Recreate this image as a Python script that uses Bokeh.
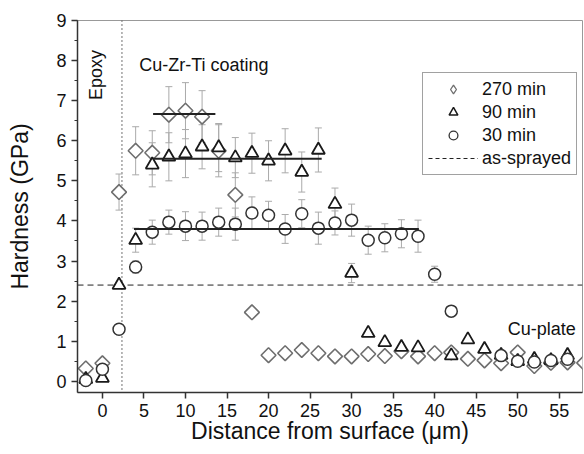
import math
from bokeh.plotting import figure
from bokeh.models import (Range1d, SingleIntervalTicker, Span, Label, Legend, LegendItem,
                          Whisker, TeeHead, ColumnDataSource)
from bokeh.embed import file_html
from bokeh.resources import INLINE

FONT = "Liberation Sans"

# ---------------- data ----------------
# 270 min (diamonds)
x_270 = [-2, 0, 2, 4, 6, 8, 10, 12, 14, 16, 18, 20, 22, 24, 26, 28, 30, 32, 34, 36,
         38, 40, 42, 44, 46, 48, 50, 52, 54, 56, 58]
h_270 = [0.32, 0.45, 4.72, 5.75, 5.70, 6.65, 6.75, 6.60, 5.75, 4.65, 1.72, 0.65, 0.70,
         0.78, 0.70, 0.62, 0.62, 0.68, 0.63, 0.75, 0.62, 0.70, 0.72, 0.56, 0.52, 0.45,
         0.72, 0.38, 0.46, 0.47, 0.46]
e_270 = [0.0, 0.0, 0.45, 0.6, 0.55, 0.7, 0.7, 0.65, 0.65, 0.55, 0.0, 0.0, 0.0,
         0.0, 0.0, 0.0, 0.0, 0.0, 0.0, 0.0, 0.0, 0.0, 0.0, 0.0, 0.0, 0.0,
         0.0, 0.0, 0.0, 0.0, 0.0]

# 90 min (triangles)
x_90 = [-2, 0, 2, 4, 6, 8, 10, 12, 14, 16, 18, 20, 22, 24, 26, 28, 30, 32, 34, 36,
        38, 42, 44, 46, 48, 50, 52, 54, 56]
h_90 = [0.05, 0.08, 2.40, 3.52, 5.40, 5.60, 5.68, 5.85, 5.83, 5.58, 5.69, 5.50, 5.75,
        5.22, 5.77, 4.42, 2.70, 1.20, 0.97, 0.85, 0.84, 0.64, 1.04, 0.80, 0.65, 0.50,
        0.55, 0.52, 0.65]
e_90 = [0.0, 0.0, 0.0, 0.3, 0.55, 0.6, 0.6, 0.55, 0.6, 0.5, 0.5, 0.5, 0.55,
        0.5, 0.55, 0.4, 0.24, 0.0, 0.0, 0.0, 0.0, 0.0, 0.0, 0.0, 0.0, 0.0,
        0.0, 0.0, 0.0]

# 30 min (circles)
x_30 = [-2, 0, 2, 4, 6, 8, 10, 12, 14, 16, 18, 20, 22, 24, 26, 28, 30, 32, 34, 36,
        38, 40, 42, 48, 50, 52, 54, 56]
h_30 = [0.02, 0.30, 1.30, 2.85, 3.72, 3.97, 3.87, 3.87, 3.97, 3.92, 4.20, 4.14, 3.80,
        4.18, 3.82, 3.95, 4.02, 3.52, 3.58, 3.68, 3.62, 2.67, 1.75, 0.64, 0.50, 0.48,
        0.52, 0.55]
e_30 = [0.0, 0.0, 0.0, 0.15, 0.3, 0.3, 0.36, 0.35, 0.35, 0.4, 0.4, 0.35, 0.36,
        0.35, 0.4, 0.3, 0.4, 0.35, 0.35, 0.35, 0.4, 0.2, 0.0, 0.0, 0.0, 0.0,
        0.0, 0.0]

# mean-value lines in the coating: start, end, level
fit_x0 = [6.1, 6.1, 3.8]
fit_x1 = [13.6, 26.4, 38.1]
fit_y = [6.67, 5.55, 3.80]

as_sprayed = 2.4          # GPa
epoxy_interface = 2.35    # um

x_min, x_max = -3.0, 57.8
y_min, y_max = -0.28, 9.0
x_ticks_interval = 5
y_ticks_interval = 1

# ---------------- figure ----------------
p = figure(width=584, height=454, x_range=Range1d(x_min, x_max), y_range=Range1d(y_min, y_max),
           output_backend="svg", toolbar_location=None,
           min_border_left=77, min_border_right=2, min_border_top=20, min_border_bottom=62)
p.xgrid.visible = False
p.ygrid.visible = False
p.outline_line_color = "#999999"
p.outline_line_width = 1
p.background_fill_color = "white"
p.border_fill_color = "white"

for ax in (p.xaxis[0], p.yaxis[0]):
    ax.axis_line_color = "#333333"
    ax.axis_line_width = 1.5
    ax.major_tick_line_color = "#333333"
    ax.major_tick_line_width = 1.5
    ax.minor_tick_line_color = "#333333"
    ax.major_tick_in = 0
    ax.major_tick_out = 6
    ax.minor_tick_in = 0
    ax.major_label_text_font = FONT
    ax.major_label_text_font_size = "18px"
    ax.major_label_text_color = "#111111"
    ax.major_label_standoff = 5
    ax.axis_label_text_font = FONT
    ax.axis_label_text_font_size = "23px"
    ax.axis_label_text_font_style = "normal"
    ax.axis_label_text_color = "#111111"

p.xaxis.ticker = SingleIntervalTicker(interval=x_ticks_interval, num_minor_ticks=0)
p.xaxis.minor_tick_out = 0
p.xaxis.major_label_standoff = 5
p.xaxis.axis_label = "Distance from surface (\u03bcm)"
p.xaxis.axis_label_standoff = -2

p.yaxis.ticker = SingleIntervalTicker(interval=y_ticks_interval, num_minor_ticks=2)
p.yaxis.minor_tick_out = 3
p.yaxis.axis_label = "Hardness (GPa)"
p.yaxis.axis_label_standoff = 20

# epoxy / coating interface
p.add_layout(Span(location=epoxy_interface, dimension="height", line_dash="1 3",
                  line_color="#444444", line_width=1.5, level="underlay"))

# as-sprayed hardness level
r_as = p.line(x=[x_min, x_max], y=[as_sprayed, as_sprayed], line_dash="6 4",
              line_color="#222222", line_width=1, level="underlay")

# error bars
def add_bars(xs, hs, es):
    bx = [x for x, e in zip(xs, es) if e > 0]
    up = [h + e for h, e in zip(hs, es) if e > 0]
    lo = [h - e for h, e in zip(hs, es) if e > 0]
    src = ColumnDataSource(dict(base=bx, upper=up, lower=lo))
    w = Whisker(base="base", upper="upper", lower="lower", source=src, dimension="height",
                line_color="#aaaaaa", line_width=1, level="underlay",
                upper_head=TeeHead(size=7, line_color="#aaaaaa", line_width=1),
                lower_head=TeeHead(size=7, line_color="#aaaaaa", line_width=1))
    p.add_layout(w)

add_bars(x_270, h_270, e_270)
add_bars(x_90, h_90, e_90)
add_bars(x_30, h_30, e_30)

r270 = p.scatter(x_270, h_270, marker="square", angle=math.pi / 4, size=10.5,
                 fill_color="white", line_color="#6e6e6e", line_width=1.6)
r90 = p.scatter(x_90, h_90, marker="triangle", size=13,
                fill_color="white", line_color="#1a1a1a", line_width=1.8)
r30 = p.scatter(x_30, h_30, marker="circle", size=12,
                fill_color="white", line_color="#333333", line_width=1.5)

p.segment(x0=fit_x0, x1=fit_x1, y0=fit_y, y1=fit_y, line_color="#222222", line_width=2)

# legend-only keys (legend markers are drawn unrotated)
r270_key = p.scatter(x=[float("nan")], y=[float("nan")], marker="diamond", size=10,
                     fill_color="white", line_color="#6e6e6e", line_width=1.3)
r90_key = p.scatter(x=[float("nan")], y=[float("nan")], marker="triangle", size=10,
                    fill_color="white", line_color="#1a1a1a", line_width=1.5)
r30_key = p.scatter(x=[float("nan")], y=[float("nan")], marker="circle", size=10,
                    fill_color="white", line_color="#333333", line_width=1.3)
r_as_key = p.line(x=[float("nan")], y=[float("nan")], line_dash="4 3",
                  line_color="#222222", line_width=1)

legend = Legend(items=[LegendItem(label="270 min", renderers=[r270_key]),
                       LegendItem(label="90 min", renderers=[r90_key]),
                       LegendItem(label="30 min", renderers=[r30_key]),
                       LegendItem(label="as-sprayed", renderers=[r_as_key])],
                location=(345, 217), glyph_width=50, glyph_height=22, label_height=22,
                spacing=1, padding=5, margin=0, label_standoff=4,
                label_text_font=FONT, label_text_font_size="18px", label_text_color="#111111",
                border_line_color="#444444", border_line_width=1, background_fill_alpha=1)
p.add_layout(legend)

# annotations
p.add_layout(Label(x=-0.76, y=7.64, text="Epoxy", angle=math.pi / 2, text_align="center",
                   text_baseline="middle", text_font=FONT, text_font_size="18px",
                   text_color="#111111"))
p.add_layout(Label(x=4.43, y=7.89, text="Cu-Zr-Ti coating", text_align="left",
                   text_baseline="middle", text_font=FONT, text_font_size="18px",
                   text_color="#111111"))
p.add_layout(Label(x=48.8, y=1.31, text="Cu-plate", text_align="left",
                   text_baseline="middle", text_font=FONT, text_font_size="18px",
                   text_color="#111111"))

open("out.html", "w").write(file_html(p, INLINE))
